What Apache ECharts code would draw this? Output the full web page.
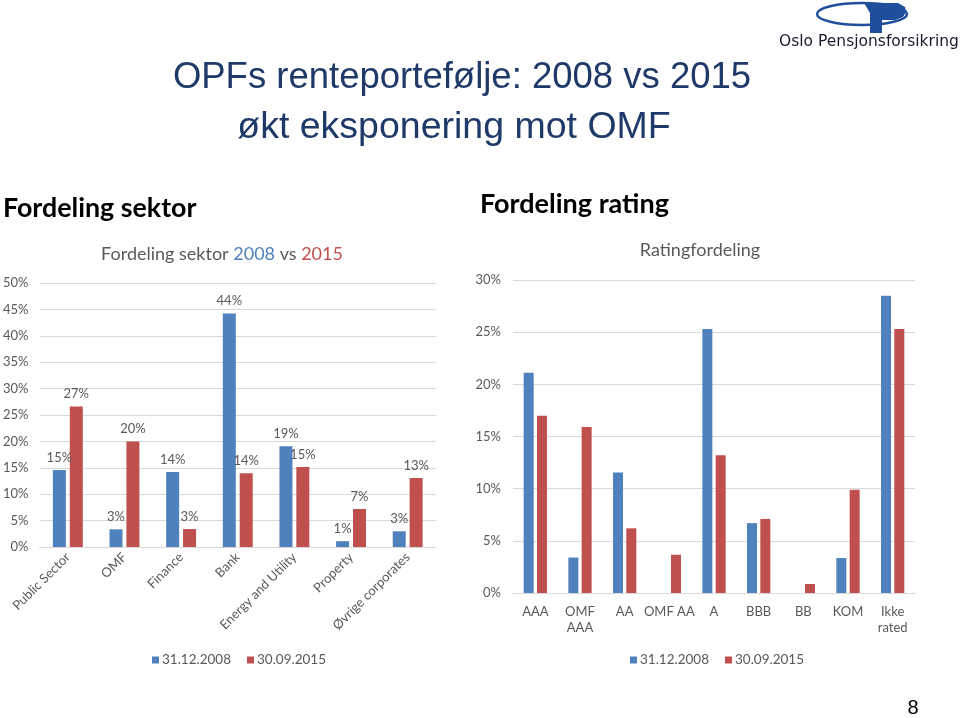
<!DOCTYPE html>
<html><head><meta charset="utf-8">
<script src="https://cdn.jsdelivr.net/npm/echarts@6/dist/echarts.min.js"></script>
<style>html,body{margin:0;padding:0;background:#fff}#c{width:960px;height:718px}</style>
</head><body><div id="c"></div>
<script>
// Sector chart data (percent)
const sectorCategories = ['Public Sector','OMF','Finance','Bank','Energy and Utility','Property','Øvrige corporates'];
const sector2008 = [14.6, 3.35, 14.2, 44.2, 19.1, 1.1, 2.97];
const sector2015 = [26.6, 20.0, 3.4, 13.96, 15.15, 7.2, 13.07];
const sectorTicks = [0,5,10,15,20,25,30,35,40,45,50];

// Rating chart data (percent)
const ratingCategories = ['AAA','OMF\nAAA','AA','OMF AA','A','BBB','BB','KOM','Ikke\nrated'];
const rating2008 = [21.1, 3.4, 11.55, null, 25.3, 6.7, null, 3.35, 28.5];
const rating2015 = [17.0, 15.9, 6.2, 3.67, 13.2, 7.1, 0.86, 9.9, 25.3];
const ratingTicks = [0,5,10,15,20,25,30];

const seriesNames = ['31.12.2008','30.09.2015'];
const BLUE = '#4F81BD', RED = '#C0504D', GRAY = '#595959', GRID = '#D9D9D9';
const FONT = 'Lato';

const chart = echarts.init(document.getElementById('c'));
const pctLabel = p => Math.round(p.value) + '%';

const legendText = {color: GRAY, fontSize: 13.5, fontFamily: FONT, padding:[0,0,0,-2]};

chart.setOption({
  animation: false,
  textStyle: {fontFamily: FONT},
  legend: [
    {data: seriesNames.map(n=>({name:n})), left: 147, top: 648, itemWidth: 7, itemHeight: 7, itemGap: 16, icon: 'rect',
     textStyle: legendText, selectedMode:false},
    {data: seriesNames.map(n=>({name:n+' '})), left: 625, top: 648, itemWidth: 7, itemHeight: 7, itemGap: 16, icon: 'rect',
     textStyle: legendText, selectedMode:false,
     formatter: n => n.trim()}
  ],
  grid: [
    {left: 35, right: 524, top: 283, bottom: 171},
    {left: 513, right: 45, top: 280, bottom: 125}
  ],
  xAxis: [
    {type:'category', gridIndex:0, data: sectorCategories,
     axisLine:{lineStyle:{color:GRID}}, axisTick:{show:false},
     axisLabel:{rotate:45, color:GRAY, fontSize:13, fontFamily:FONT, interval:0, margin:8}},
    {type:'category', gridIndex:1, data: ratingCategories,
     axisLine:{lineStyle:{color:GRID}}, axisTick:{show:false},
     axisLabel:{color:GRAY, fontSize:13, fontFamily:FONT, interval:0, lineHeight:16, margin:11}}
  ],
  yAxis: [
    {type:'value', gridIndex:0, min: sectorTicks[0], max: sectorTicks[sectorTicks.length-1], interval: 5,
     axisLine:{show:false}, axisTick:{show:false},
     splitLine:{lineStyle:{color:GRID}},
     axisLabel:{formatter:'{value}%', color:GRAY, fontSize:13, fontFamily:FONT, margin:11}},
    {type:'value', gridIndex:1, min: ratingTicks[0], max: ratingTicks[ratingTicks.length-1], interval: 5,
     axisLine:{show:false}, axisTick:{show:false},
     splitLine:{lineStyle:{color:GRID}},
     axisLabel:{formatter:'{value}%', color:GRAY, fontSize:13, fontFamily:FONT, margin:12}}
  ],
  series: [
    {name: seriesNames[0], type:'bar', xAxisIndex:0, yAxisIndex:0, data: sector2008, barWidth:13, barGap:'30%',
     itemStyle:{color:BLUE}, label:{show:true, position:'top', distance:6, formatter:pctLabel, color:GRAY, fontSize:13, fontFamily:FONT}},
    {name: seriesNames[1], type:'bar', xAxisIndex:0, yAxisIndex:0, data: sector2015, barWidth:13, barGap:'30%',
     itemStyle:{color:RED}, label:{show:true, position:'top', distance:6, formatter:pctLabel, color:GRAY, fontSize:13, fontFamily:FONT}},
    {name: seriesNames[0]+' ', type:'bar', xAxisIndex:1, yAxisIndex:1, data: rating2008, barWidth:10, barGap:'33%',
     itemStyle:{color:BLUE}},
    {name: seriesNames[1]+' ', type:'bar', xAxisIndex:1, yAxisIndex:1, data: rating2015, barWidth:10, barGap:'33%',
     itemStyle:{color:RED}}
  ],
  graphic: [
    {type:'text', style:{text:'OPFs renteportefølje: 2008 vs 2015', x:462, y:78, align:'center', verticalAlign:'middle',
      font:'36.5px "Liberation Sans", Arial, sans-serif', fill:'#1F3A68'}},
    {type:'text', style:{text:'økt eksponering mot OMF', x:454, y:128, align:'center', verticalAlign:'middle',
      font:'37.5px "Liberation Sans", Arial, sans-serif', fill:'#1F3A68'}},
    {type:'text', style:{text:'Fordeling sektor', x:3, y:208, verticalAlign:'middle',
      font:'bold 26.8px Lato, sans-serif', fill:'#000'}},
    {type:'text', style:{text:'Fordeling rating', x:480, y:204, verticalAlign:'middle',
      font:'bold 27px Lato, sans-serif', fill:'#000'}},
    {type:'text', style:{text:'{a|Fordeling sektor }{b|2008}{a| vs }{c|2015}', x:222, y:254, align:'center', verticalAlign:'middle',
      rich:{a:{fill:GRAY, fontSize:18, fontFamily:FONT}, b:{fill:BLUE, fontSize:18, fontFamily:FONT}, c:{fill:RED, fontSize:18, fontFamily:FONT}}}},
    {type:'text', style:{text:'Ratingfordeling', x:700, y:250, align:'center', verticalAlign:'middle',
      font:'18px Lato, sans-serif', fill:GRAY}},
    {type:'text', style:{text:'8', x:913, y:708, align:'center', verticalAlign:'middle',
      font:'20px "Liberation Sans", Arial, sans-serif', fill:'#000'}},
    // logo
    {type:'ellipse', shape:{cx:862, cy:14, rx:45, ry:11}, style:{fill:'none', stroke:'#1F4E9A', lineWidth:2.5}},
    {type:'polygon', shape:{points:[[864,3],[898,3],[905,7],[906,12],[903,17],[895,20],[882,20],[882,33],[870,33],[870,13],[867,8]]},
     style:{fill:'#1F4E9A'}},
    {type:'text', style:{text:'Oslo Pensjonsforsikring', x:779, y:42, verticalAlign:'middle',
      font:'15.5px "DejaVu Sans", sans-serif', fill:'#1a1a2e'}}
  ]
});
</script></body></html>
